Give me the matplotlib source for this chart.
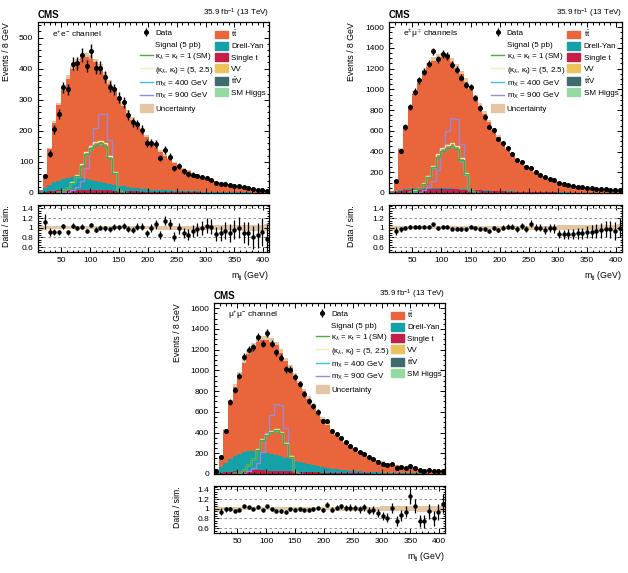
import numpy as np
import matplotlib
matplotlib.use('Agg')
import matplotlib.pyplot as plt
from matplotlib.lines import Line2D
from matplotlib.patches import Patch
from matplotlib.ticker import MultipleLocator

plt.rcParams['font.family'] = ['Liberation Sans', 'DejaVu Sans']
plt.rcParams['mathtext.fontset'] = 'custom'
plt.rcParams['mathtext.rm'] = 'Liberation Sans'
plt.rcParams['mathtext.it'] = 'Liberation Sans:italic'
plt.rcParams['mathtext.bf'] = 'Liberation Sans:bold'

# m_jj binning: 8 GeV bins from 10 to 410 GeV, signals only in 42-162 GeV
edges = np.arange(10, 411, 8)
sig_edges = np.arange(42, 163, 8)

# ee channel
ee_data = [0, 54, 127, 205, 255, 340, 333, 416, 417, 444,
           408, 457, 403, 403, 373, 342, 333, 306, 292, 252,
           227, 221, 203, 160, 162, 157, 113, 138, 117, 79,
           86, 70, 60, 59, 55, 51, 48, 43, 33, 30,
           29, 25, 24, 22, 18, 15, 12, 11, 10, 7]
ee_mc = [10, 48, 140, 225, 282, 330, 368, 398, 420, 434,
         438, 432, 420, 402, 378, 352, 328, 304, 280, 258,
         236, 216, 198, 180, 163, 147, 133, 120, 108, 97,
         87, 78, 70, 63, 57, 51, 46, 42, 38, 34,
         31, 28, 25, 22, 20, 17, 15, 13, 11, 9]
ee_dy = [4, 12, 20, 27, 32, 36, 39, 40, 39, 37,
         35, 32, 29, 26, 23, 21, 19, 17, 15, 13,
         11, 10, 9, 8, 7, 6, 6, 5, 5, 4,
         4, 3, 3, 3, 3, 2, 2, 2, 2, 2,
         1, 1, 1, 1, 1, 1, 1, 1, 1, 1]
ee_st = [1, 3, 5, 7, 8, 9, 10, 10, 10, 10,
         10, 10, 9, 9, 8, 8, 7, 7, 6, 6,
         5, 5, 4, 4, 4, 3, 3, 3, 3, 2,
         2, 2, 2, 2, 2, 1, 1, 1, 1, 1,
         1, 1, 1, 1, 1, 1, 0, 0, 0, 0]
ee_sm = [3, 8, 16, 32, 54, 88, 125, 144, 155, 160, 152, 112, 64, 10, 2]
ee_bsm = [3, 8, 17, 34, 57, 92, 131, 151, 163, 168, 160, 118, 67, 10, 2]
ee_m400 = [3, 8, 16, 31, 53, 87, 124, 143, 154, 159, 151, 111, 63, 10, 2]
ee_m900 = [0, 2, 4, 10, 20, 40, 80, 150, 210, 255, 255, 170, 65, 10, 2]

# emu channels
em_data = [0, 116, 407, 636, 830, 979, 1089, 1172, 1247, 1366,
           1290, 1344, 1324, 1237, 1189, 1114, 1043, 1021, 914, 824,
           736, 640, 607, 520, 480, 430, 380, 320, 300, 250,
           245, 200, 178, 150, 138, 122, 95, 84, 75, 66,
           60, 54, 50, 45, 41, 38, 35, 31, 27, 26]
em_mc = [20, 125, 420, 640, 815, 955, 1065, 1150, 1220, 1275,
         1305, 1312, 1298, 1262, 1210, 1145, 1075, 1000, 920, 840,
         760, 682, 608, 540, 478, 422, 372, 328, 290, 256,
         226, 200, 177, 157, 139, 123, 109, 97, 86, 76,
         68, 61, 55, 49, 44, 40, 36, 32, 29, 26]
em_dy = [2, 5, 7, 9, 10, 11, 11, 11, 11, 10,
         10, 9, 9, 8, 8, 7, 7, 6, 6, 5,
         5, 4, 4, 4, 3, 3, 3, 2, 2, 2,
         2, 2, 2, 1, 1, 1, 1, 1, 1, 1,
         1, 1, 1, 1, 0, 0, 0, 0, 0, 0]
em_st = [3, 10, 18, 25, 30, 34, 37, 39, 40, 40,
         40, 39, 38, 36, 34, 32, 30, 28, 26, 24,
         22, 20, 18, 16, 15, 13, 12, 11, 10, 9,
         8, 7, 6, 6, 5, 5, 4, 4, 4, 3,
         3, 3, 2, 2, 2, 2, 2, 1, 1, 1]
em_sm = [9, 22, 45, 90, 153, 248, 350, 405, 437, 450, 428, 315, 180, 27, 5]
em_bsm = [10, 24, 48, 96, 163, 264, 374, 432, 466, 480, 456, 336, 192, 29, 5]
em_m400 = [9, 21, 44, 88, 151, 245, 346, 401, 433, 446, 424, 312, 178, 26, 5]
em_m900 = [0, 5, 12, 28, 56, 112, 225, 420, 600, 720, 710, 470, 180, 28, 5]

# mumu channel
mm_data = [32, 160, 416, 694, 810, 944, 1130, 1200, 1222, 1322,
           1258, 1360, 1258, 1174, 1120, 1010, 1008, 934, 864, 774,
           704, 656, 598, 512, 512, 416, 384, 352, 304, 272,
           240, 208, 192, 160, 144, 120, 99, 85, 95, 62,
           64, 62, 74, 56, 36, 32, 37, 28, 30, 32]
mm_mc = [15, 170, 420, 690, 840, 960, 1075, 1160, 1225, 1270,
         1290, 1292, 1275, 1240, 1170, 1090, 1020, 950, 875, 800,
         725, 655, 590, 528, 472, 424, 377, 335, 298, 265,
         236, 210, 187, 166, 148, 132, 117, 104, 93, 83,
         74, 66, 59, 53, 48, 43, 39, 35, 32, 29]
mm_dy = [8, 60, 95, 125, 150, 168, 180, 188, 190, 188,
         182, 174, 164, 153, 142, 130, 118, 106, 95, 85,
         75, 66, 58, 51, 45, 40, 35, 31, 27, 24,
         21, 18, 16, 14, 12, 11, 10, 9, 8, 7,
         6, 5, 5, 4, 4, 3, 3, 3, 2, 2]
mm_st = [2, 8, 15, 21, 26, 29, 31, 33, 34, 34,
         34, 33, 32, 31, 29, 27, 25, 24, 22, 20,
         19, 17, 15, 14, 13, 11, 10, 9, 8, 8,
         7, 6, 5, 5, 4, 4, 3, 3, 3, 3,
         2, 2, 2, 2, 2, 2, 1, 1, 1, 1]
mm_sm = [8, 21, 42, 84, 143, 231, 328, 378, 407, 420, 399, 294, 168, 25, 4]
mm_bsm = [9, 22, 43, 86, 146, 237, 335, 387, 417, 430, 409, 301, 172, 26, 4]
mm_m400 = [8, 20, 41, 83, 141, 228, 324, 374, 403, 416, 395, 291, 166, 25, 4]
mm_m900 = [0, 5, 11, 26, 53, 106, 212, 397, 567, 680, 670, 444, 170, 26, 5]

# relative uncertainty of the prediction (all channels)
unc_rel = [0.06, 0.04, 0.035, 0.03, 0.03, 0.03, 0.03, 0.03, 0.03, 0.03,
           0.03, 0.03, 0.03, 0.03, 0.03, 0.03, 0.03, 0.03, 0.03, 0.03,
           0.035, 0.035, 0.035, 0.035, 0.035, 0.035, 0.04, 0.04, 0.04, 0.04,
           0.04, 0.04, 0.045, 0.045, 0.045, 0.045, 0.05, 0.05, 0.05, 0.05,
           0.05, 0.055, 0.055, 0.055, 0.06, 0.06, 0.06, 0.065, 0.065, 0.07]

c_tt = '#e9653b'
c_dy = '#15a1a8'
c_st = '#c41f4b'
c_vv = '#eac35f'
c_ttv = '#3f6a6e'
c_h = '#96d9a3'
c_unc = '#e4c7a2'
c_sm = '#4ea93c'
c_bsm = '#f3efb6'
c_400 = '#3cc5d6'
c_900 = '#9b88d8'

fs = 6


def style_axes(ax, ymajor, yminor):
    ax.xaxis.set_major_locator(MultipleLocator(50))
    ax.xaxis.set_minor_locator(MultipleLocator(10))
    ax.yaxis.set_major_locator(MultipleLocator(ymajor))
    ax.yaxis.set_minor_locator(MultipleLocator(yminor))
    ax.tick_params(which='both', direction='in', top=True, right=True, labelsize=fs, width=0.7)
    ax.tick_params(which='major', length=3.6)
    ax.tick_params(which='minor', length=1.8)
    for s in ax.spines.values():
        s.set_linewidth(0.9)


def draw_channel(ax, axr, data, mc, dy, st, sm, bsm, m400, m900, ymax, ymajor, yminor, chan, labx):
    data = np.array(data, float)
    mc = np.array(mc, float)
    dy = np.array(dy, float)
    st = np.array(st, float)
    unc = np.array(unc_rel)
    centers = 0.5 * (edges[1:] + edges[:-1])

    # stacked backgrounds
    ax.stairs(mc * (1 + unc), edges, baseline=mc * (1 - unc), fill=True, color=c_unc)
    ax.stairs(mc, edges, baseline=st + dy, fill=True, color=c_tt)
    ax.stairs(st + dy, edges, baseline=st, fill=True, color=c_dy)
    ax.stairs(st, edges, baseline=0, fill=True, color=c_st)

    # signals
    ax.stairs(m900, sig_edges, color=c_900, lw=1)
    ax.stairs(bsm, sig_edges, color=c_bsm, lw=1)
    ax.stairs(m400, sig_edges, color=c_400, lw=1)
    ax.stairs(sm, sig_edges, color=c_sm, lw=1)

    m = data > 0
    hdata = ax.errorbar(centers[m], data[m], yerr=np.sqrt(data[m]), fmt='o', color='k',
                        ms=2.6, lw=1, capsize=0)

    ax.set_xlim(10, 410)
    ax.set_ylim(0, ymax)
    style_axes(ax, ymajor, yminor)
    ax.tick_params(labelbottom=False)
    ax.set_ylabel('Events / 8 GeV', fontsize=6.3, loc='top')
    ax.yaxis.set_label_coords(labx, 1.0)
    ax.text(0, 1.012, 'CMS', transform=ax.transAxes, fontsize=7, fontweight='bold', va='bottom')
    ax.text(1, 1.012, '35.9 fb$^{-1}$ (13 TeV)', transform=ax.transAxes, fontsize=5.8,
            ha='right', va='bottom')
    ax.text(0.06, 0.93, chan, transform=ax.transAxes, fontsize=6, va='center')

    # legends
    left = [hdata,
            Line2D([], [], color='none'),
            Line2D([], [], color=c_sm, lw=1),
            Line2D([], [], color=c_bsm, lw=1),
            Line2D([], [], color=c_400, lw=1),
            Line2D([], [], color=c_900, lw=1),
            Patch(color=c_unc)]
    left_lab = ['Data', 'Signal (5 pb)',
                'κ$_{\\lambda}$ = κ$_{\\mathrm{t}}$ = 1 (SM)',
                '(κ$_{\\lambda}$, κ$_{\\mathrm{t}}$) = (5, 2.5)',
                'm$_{\\mathrm{X}}$ = 400 GeV', 'm$_{\\mathrm{X}}$ = 900 GeV', 'Uncertainty']
    leg1 = ax.legend(left, left_lab, loc='upper left', bbox_to_anchor=(0.44, 0.96),
                     frameon=False, fontsize=5.8, labelspacing=0.32, handlelength=1.6,
                     handleheight=1.1, handletextpad=0.3, borderpad=0, borderaxespad=0)
    ax.add_artist(leg1)
    right = [Patch(color=c) for c in [c_tt, c_dy, c_st, c_vv, c_ttv, c_h]]
    right_lab = ['$\\mathrm{t\\bar{t}}$', 'Drell-Yan', 'Single t', 'VV',
                 '$\\mathrm{t\\bar{t}V}$', 'SM Higgs']
    ax.legend(right, right_lab, loc='upper left', bbox_to_anchor=(0.766, 0.96),
              frameon=False, fontsize=5.8, labelspacing=0.32, handlelength=1.6,
              handleheight=1.1, handletextpad=0.4, borderpad=0, borderaxespad=0)

    # ratio panel
    ratio = np.where(m, data / mc, np.nan)
    rerr = np.where(m, np.sqrt(data) / mc, np.nan)
    axr.stairs(1 + unc, edges, baseline=1 - unc, fill=True, color=c_unc)
    for yv in [0.6, 0.8, 1.2, 1.4]:
        axr.axhline(yv, color='grey', lw=0.6, ls=(0, (3, 3)))
    axr.errorbar(centers[m], ratio[m], yerr=rerr[m], fmt='o', color='k', ms=2.2, lw=0.9, capsize=0)
    axr.set_xlim(10, 410)
    axr.set_ylim(0.5, 1.47)
    style_axes(axr, 0.2, 0.05)
    axr.set_yticks([0.6, 0.8, 1.0, 1.2, 1.4])
    axr.set_yticklabels(['0.6', '0.8', '1', '1.2', '1.4'])
    axr.set_ylabel('Data / sim.', fontsize=6.3, loc='top')
    axr.yaxis.set_label_coords(labx, 1.0)
    axr.set_xlabel('m$_{\\mathrm{jj}}$ (GeV)', fontsize=6.3, loc='right', labelpad=4)


fig = plt.figure(figsize=(6.28, 5.73), dpi=100)

ax1 = fig.add_axes([0.0605, 0.6632, 0.368, 0.2984])
ax1r = fig.add_axes([0.0605, 0.5602, 0.368, 0.082])
ax2 = fig.add_axes([0.6194, 0.6632, 0.371, 0.2984])
ax2r = fig.add_axes([0.6194, 0.5602, 0.371, 0.082])
ax3 = fig.add_axes([0.3408, 0.1728, 0.368, 0.2984])
ax3r = fig.add_axes([0.3408, 0.0698, 0.368, 0.082])

draw_channel(ax1, ax1r, ee_data, ee_mc, ee_dy, ee_st, ee_sm, ee_bsm, ee_m400, ee_m900,
             550, 100, 20, 'e$^{+}$e$^{-}$ channel', -0.118)
draw_channel(ax2, ax2r, em_data, em_mc, em_dy, em_st, em_sm, em_bsm, em_m400, em_m900,
             1650, 200, 50, 'e$^{\\pm}$μ$^{\\mp}$ channels', -0.14)
draw_channel(ax3, ax3r, mm_data, mm_mc, mm_dy, mm_st, mm_sm, mm_bsm, mm_m400, mm_m900,
             1650, 200, 50, 'μ$^{+}$μ$^{-}$ channel', -0.14)

plt.savefig('out.png', dpi=100)
